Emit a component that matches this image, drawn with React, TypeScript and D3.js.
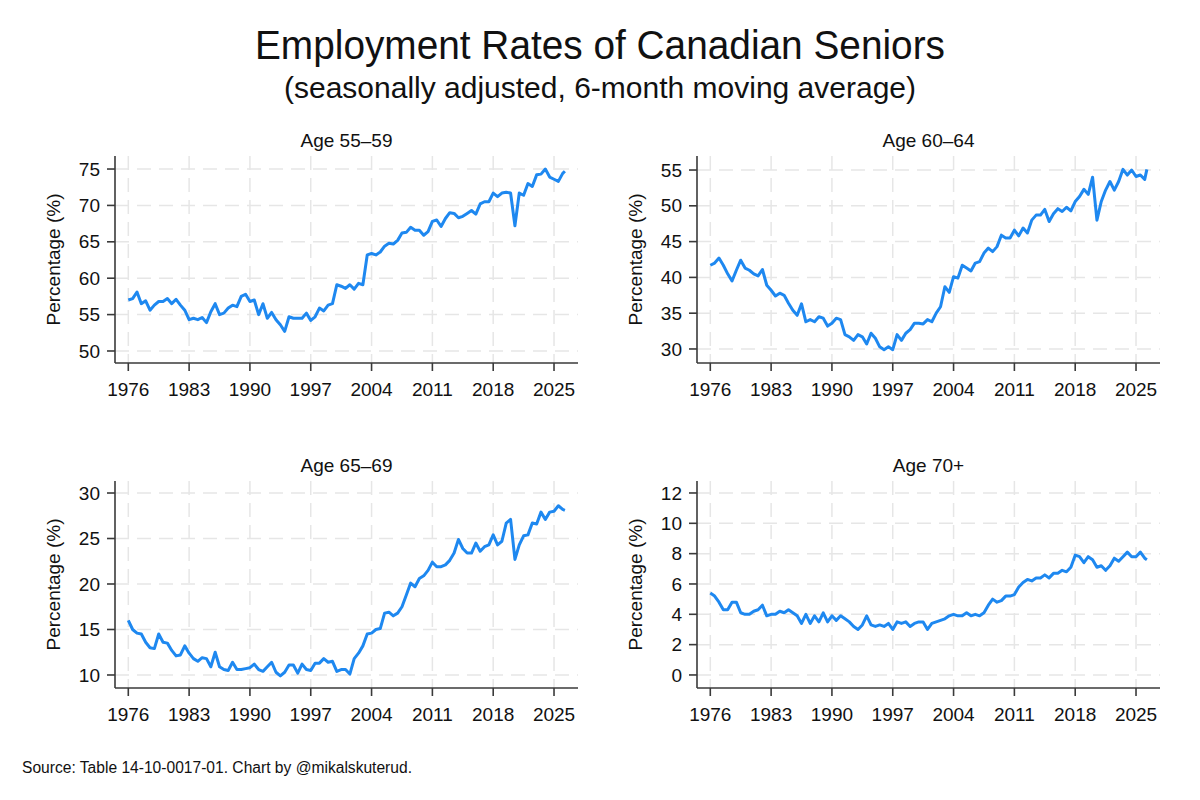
import * as d3 from "d3";

// semi-annual readings, Jan 1976 .. early 2026
const dates = [...d3.range(1976, 2026.5, 0.5), 2026.25];

const age5559 = [
  57.0, 57.2, 58.1, 56.5, 56.9, 55.6, 56.3, 56.8, 56.8, 57.2,
  56.5, 57.1, 56.3, 55.6, 54.3, 54.5, 54.3, 54.6, 53.9, 55.4,
  56.5, 55.0, 55.2, 55.9, 56.3, 56.1, 57.5, 57.8, 56.8, 57.0,
  55.0, 56.5, 54.5, 55.3, 54.3, 53.6, 52.7, 54.7, 54.5, 54.5,
  54.5, 55.2, 54.2, 54.7, 55.9, 55.5, 56.3, 56.5, 59.1, 58.9,
  58.6, 59.1, 58.5, 59.3, 59.1, 63.2, 63.4, 63.2, 63.6, 64.4,
  64.8, 64.7, 65.2, 66.2, 66.3, 67.0, 66.6, 66.6, 65.9, 66.4,
  67.8, 68.0, 67.1, 68.2, 69.0, 68.9, 68.3, 68.5, 68.9, 69.3,
  68.8, 70.2, 70.5, 70.5, 71.7, 71.2, 71.7, 71.8, 71.7, 67.2,
  71.7, 71.4, 73.0, 72.6, 74.2, 74.3, 75.0, 73.9, 73.6, 73.3,
  74.4, 74.7,
];

const age6064 = [
  41.7, 42.0, 42.7, 41.7, 40.5, 39.5, 41.0, 42.4, 41.3, 41.0,
  40.5, 40.2, 41.1, 38.9, 38.2, 37.4, 37.8, 37.5, 36.4, 35.4,
  34.7, 36.3, 33.8, 34.1, 33.8, 34.5, 34.3, 33.2, 33.6, 34.3,
  34.1, 32.0, 31.7, 31.2, 32.0, 31.7, 30.7, 32.2, 31.5, 30.3,
  29.9, 30.3, 29.9, 32.0, 31.2, 32.2, 32.7, 33.6, 33.6, 33.5,
  34.1, 33.8, 35.0, 35.9, 38.7, 37.9, 40.1, 39.9, 41.7, 41.3,
  40.9, 42.0, 42.2, 43.4, 44.1, 43.6, 44.3, 45.9, 45.5, 45.5,
  46.6, 45.8, 46.9, 46.2, 48.0, 48.7, 48.7, 49.5, 47.8, 48.9,
  49.6, 49.2, 49.8, 49.3, 50.6, 51.3, 52.3, 51.6, 54.0, 48.0,
  50.6, 52.2, 53.4, 52.2, 53.4, 55.1, 54.3, 55.0, 54.1, 54.3,
  53.7, 55.1,
];

const age6569 = [
  16.0, 15.0, 14.6, 14.5, 13.6, 13.0, 12.9, 14.5, 13.6, 13.5,
  12.7, 12.1, 12.2, 13.2, 12.4, 11.8, 11.5, 11.9, 11.8, 10.9,
  12.5, 10.9, 10.6, 10.5, 11.4, 10.6, 10.6, 10.7, 10.8, 11.2,
  10.6, 10.4, 10.9, 11.4, 10.3, 9.9, 10.3, 11.1, 11.1, 10.2,
  11.2, 10.6, 10.5, 11.3, 11.3, 11.8, 11.4, 11.5, 10.4, 10.6,
  10.6, 10.1, 11.8, 12.4, 13.2, 14.5, 14.6, 15.0, 15.1, 16.8,
  16.9, 16.5, 16.8, 17.5, 18.8, 20.1, 19.7, 20.6, 20.9, 21.5,
  22.4, 21.9, 21.9, 22.1, 22.6, 23.4, 24.9, 23.9, 23.4, 23.4,
  24.5, 23.6, 24.1, 24.3, 25.4, 24.3, 24.7, 26.7, 27.1, 22.7,
  24.3, 25.3, 25.4, 26.7, 26.6, 27.9, 27.1, 27.9, 28.0, 28.6,
  28.2, 28.1,
];

const age70 = [
  5.4, 5.2, 4.8, 4.3, 4.3, 4.8, 4.8, 4.1, 4.0, 4.0,
  4.2, 4.3, 4.6, 3.9, 4.0, 4.0, 4.2, 4.1, 4.3, 4.1,
  3.9, 3.4, 4.0, 3.4, 3.9, 3.5, 4.1, 3.5, 3.9, 3.6,
  3.9, 3.7, 3.5, 3.2, 3.0, 3.3, 3.9, 3.3, 3.2, 3.3,
  3.2, 3.4, 3.0, 3.5, 3.4, 3.5, 3.2, 3.4, 3.5, 3.5,
  3.0, 3.4, 3.5, 3.6, 3.7, 3.9, 4.0, 3.9, 3.9, 4.1,
  3.9, 4.0, 3.9, 4.1, 4.6, 5.0, 4.8, 4.9, 5.2, 5.2,
  5.3, 5.8, 6.1, 6.3, 6.2, 6.4, 6.4, 6.6, 6.4, 6.7,
  6.7, 6.9, 6.8, 7.1, 7.9, 7.8, 7.4, 7.8, 7.6, 7.1,
  7.2, 6.9, 7.2, 7.7, 7.5, 7.8, 8.1, 7.8, 7.8, 8.1,
  7.7, 7.6,
];

const xTicks = [1976, 1983, 1990, 1997, 2004, 2011, 2018, 2025];
const yTicks5559 = [50, 55, 60, 65, 70, 75];
const yTicks6064 = [30, 35, 40, 45, 50, 55];
const yTicks6569 = [10, 15, 20, 25, 30];
const yTicks70 = [0, 2, 4, 6, 8, 10, 12];

const FONT = "'Liberation Sans', Arial, Helvetica, sans-serif";
const LINE = "#1e88f0";
const AXIS = "#3a3a3a";
const GRID = "#e6e6e6";

const W = 463;
const H = 207;

const panels = [
  { title: "Age 55–59", values: age5559, ticks: yTicks5559, domain: [48.35, 76.79], left: 115, top: 156 },
  { title: "Age 60–64", values: age6064, ticks: yTicks6064, domain: [28.04, 56.96], left: 697, top: 156 },
  { title: "Age 65–69", values: age6569, ticks: yTicks6569, domain: [8.57, 31.32], left: 115, top: 481 },
  { title: "Age 70+", values: age70, ticks: yTicks70, domain: [-0.86, 12.79], left: 697, top: 481 },
];

function Panel({ title, values, ticks, domain, left, top }: any) {
  const x = d3.scaleLinear().domain([1974.47, 2027.76]).range([0, W]);
  const y = d3.scaleLinear().domain(domain).range([H, 0]);
  const line = d3
    .line<number>()
    .x((_, i) => x(dates[i]))
    .y((d) => y(d));

  return (
    <g transform={`translate(${left},${top})`}>
      {/* grid */}
      {ticks.map((t: number) => (
        <line key={"h" + t} x1={0} x2={W} y1={y(t)} y2={y(t)} stroke={GRID} strokeWidth={1.5} strokeDasharray="14 8" />
      ))}
      {xTicks.map((t) => (
        <line key={"v" + t} x1={x(t)} x2={x(t)} y1={0} y2={H} stroke={GRID} strokeWidth={1.5} strokeDasharray="14 8" />
      ))}

      <path d={line(values) ?? ""} fill="none" stroke={LINE} strokeWidth={3} strokeLinejoin="round" />

      {/* axes */}
      <line x1={0} x2={0} y1={0} y2={H} stroke={AXIS} strokeWidth={1.6} />
      <line x1={0} x2={W} y1={H} y2={H} stroke={AXIS} strokeWidth={1.6} />
      {ticks.map((t: number) => (
        <g key={"yt" + t}>
          <line x1={-8} x2={0} y1={y(t)} y2={y(t)} stroke={AXIS} strokeWidth={1.6} />
          <text x={-15} y={y(t)} dy="0.35em" textAnchor="end" fontSize={19} fill="#111">
            {t}
          </text>
        </g>
      ))}
      {xTicks.map((t) => (
        <g key={"xt" + t}>
          <line x1={x(t)} x2={x(t)} y1={H} y2={H + 8} stroke={AXIS} strokeWidth={1.6} />
          <text x={x(t)} y={H + 33} textAnchor="middle" fontSize={19} fill="#111">
            {t}
          </text>
        </g>
      ))}

      <text x={W / 2} y={-9} textAnchor="middle" fontSize={19} fill="#111">
        {title}
      </text>
      <text
        transform={`translate(${-55},${H / 2}) rotate(-90)`}
        textAnchor="middle"
        fontSize={19}
        fill="#111"
      >
        Percentage (%)
      </text>
    </g>
  );
}

export default function App() {
  return (
    <svg
      width={1200}
      height={800}
      style={{ position: "absolute", left: 0, top: 0, background: "#fff" }}
      fontFamily={FONT}
    >
      <rect width={1200} height={800} fill="#fff" />
      <text x={600} y={59} textAnchor="middle" fontSize={41} textLength={690} lengthAdjust="spacingAndGlyphs" fill="#111">
        Employment Rates of Canadian Seniors
      </text>
      <text x={600} y={98} textAnchor="middle" fontSize={30} fill="#111">
        (seasonally adjusted, 6-month moving average)
      </text>
      {panels.map((p) => (
        <Panel key={p.title} {...p} />
      ))}
      <text x={22} y={773} fontSize={15.6} fill="#111">
        Source: Table 14-10-0017-01. Chart by @mikalskuterud.
      </text>
    </svg>
  );
}
